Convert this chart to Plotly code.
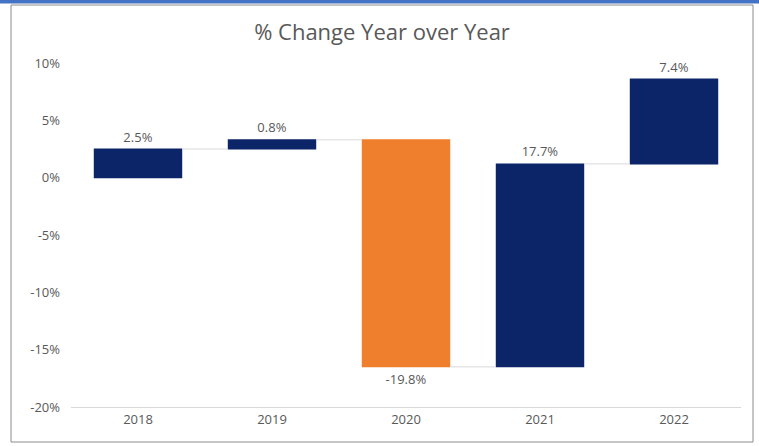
import plotly.graph_objects as go

# Year-over-year change data
years = ["2018", "2019", "2020", "2021", "2022"]
changes = [2.5, 0.8, -19.8, 17.7, 7.4]
labels = ["2.5%", "0.8%", "-19.8%", "17.7%", "7.4%"]
tick_vals = [10, 5, 0, -5, -10, -15, -20]
tick_text = ["10%", "5%", "0%", "-5%", "-10%", "-15%", "-20%"]

NAVY = "#0c2468"
ORANGE = "#f07f2d"
GREY = "#595959"

W, H = 759, 446
L, R, T, B = 71, 18, 63, 39
pw, ph = W - L - R, H - T - B


def px_x(x):
    return (x - L) / pw


def px_y(y):
    return 1 - (y - T) / ph


fig = go.Figure(
    go.Waterfall(
        x=years,
        y=changes,
        measure=["relative"] * len(changes),
        text=labels,
        textposition="outside",
        textfont=dict(size=13, color=GREY, family="Open Sans"),
        increasing=dict(marker=dict(color=NAVY)),
        decreasing=dict(marker=dict(color=ORANGE)),
        connector=dict(line=dict(color="#d9d9d9", width=1)),
        cliponaxis=False,
        hoverinfo="skip",
    )
)

shapes = [
    # outer frame
    dict(type="rect", xref="paper", yref="paper",
         x0=px_x(11), x1=px_x(753), y0=px_y(442), y1=px_y(5),
         line=dict(color="#8c8c8c", width=1), fillcolor="rgba(0,0,0,0)", layer="below"),
    # top accent bar
    dict(type="rect", xref="paper", yref="paper",
         x0=px_x(0), x1=px_x(759), y0=px_y(3.5), y1=px_y(0),
         line=dict(width=0), fillcolor="#4472c4"),
]

fig.update_layout(
    width=W, height=H,
    margin=dict(l=L, r=R, t=T, b=B),
    paper_bgcolor="white", plot_bgcolor="white",
    font=dict(family="Open Sans", color=GREY),
    title=dict(text="% Change Year over Year", x=px_x(382), xref="paper", xanchor="center",
               y=1 - 32 / H, yanchor="middle",
               font=dict(size=22, color=GREY, family="Open Sans")),
    showlegend=False,
    waterfallgap=0.34,
    shapes=shapes,
    xaxis=dict(showgrid=False, showline=True, linecolor="#d9d9d9", linewidth=1,
               ticks="", tickfont=dict(size=13, color=GREY)),
    yaxis=dict(range=[-20, 10], tickvals=tick_vals, ticktext=tick_text,
               showgrid=False, zeroline=False, showline=False, ticks="",
               tickfont=dict(size=13, color=GREY), ticklabelstandoff=10),
)

fig.write_html("out.html")
